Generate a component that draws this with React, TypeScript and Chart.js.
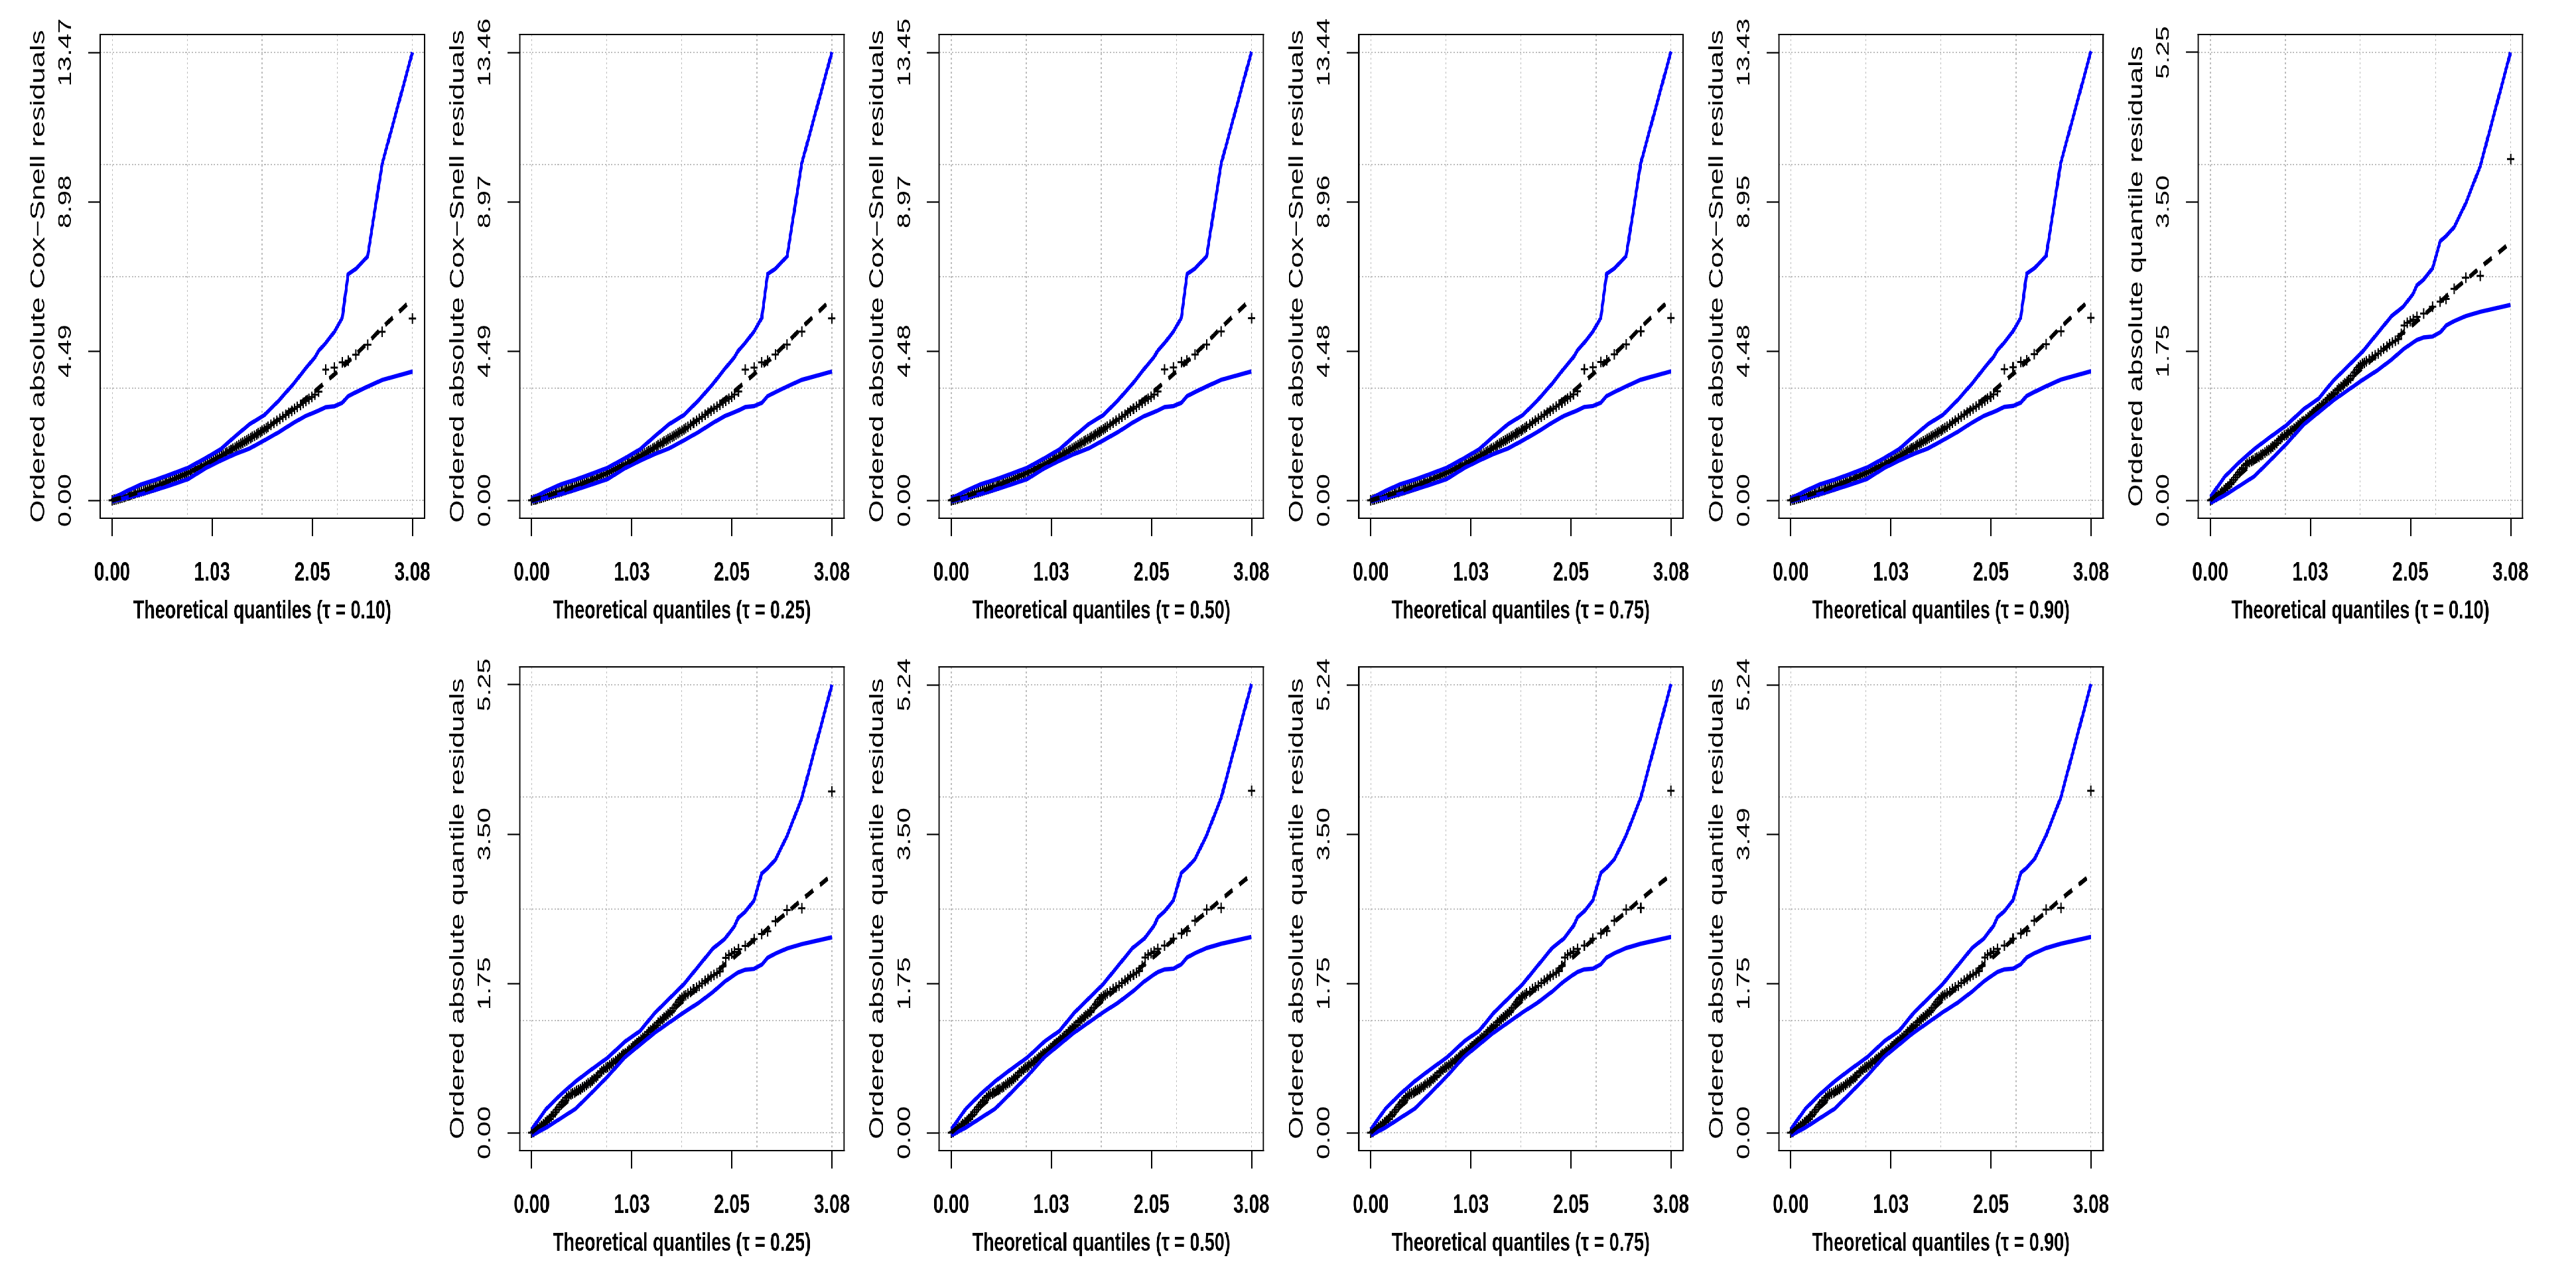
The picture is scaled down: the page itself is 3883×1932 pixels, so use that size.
import React, { useEffect, useRef } from 'react';
import { Chart, registerables } from 'chart.js';

Chart.register(...registerables);

const FONT = "'Liberation Sans', Arial, Helvetica, sans-serif";
const K = 0.68; // the reference is horizontally compressed
const PAGE_W = 3883;
const PAGE_H = 1932;

// ---------------- data ----------------
const taus = ['0.10', '0.25', '0.50', '0.75', '0.90', '0.10', '0.25', '0.50', '0.75', '0.90'];
const yTitleCS = 'Ordered absolute Cox\u2212Snell residuals';
const yTitleQR = 'Ordered absolute quantile residuals';
const yMaxes = [13.47, 13.46, 13.45, 13.44, 13.43, 5.25, 5.25, 5.24, 5.24, 5.24];
const yTickLabels = [
  ['0.00', '4.49', '8.98', '13.47'],
  ['0.00', '4.49', '8.97', '13.46'],
  ['0.00', '4.48', '8.97', '13.45'],
  ['0.00', '4.48', '8.96', '13.44'],
  ['0.00', '4.48', '8.95', '13.43'],
  ['0.00', '1.75', '3.50', '5.25'],
  ['0.00', '1.75', '3.50', '5.25'],
  ['0.00', '1.75', '3.50', '5.24'],
  ['0.00', '1.75', '3.50', '5.24'],
  ['0.00', '1.75', '3.49', '5.24'],
];
const xMax = 3.08;
const xTickLabels = ['0.00', '1.03', '2.05', '3.08'];

// theoretical quantiles of the plotted residuals
const theoQ = [
  0.00, 0.02, 0.04, 0.06, 0.08, 0.10, 0.12, 0.14, 0.16, 0.18,
  0.20, 0.22, 0.24, 0.26, 0.28, 0.30, 0.32, 0.34, 0.36, 0.38,
  0.40, 0.42, 0.44, 0.46, 0.48, 0.50, 0.52, 0.54, 0.56, 0.58,
  0.60, 0.62, 0.64, 0.66, 0.68, 0.70, 0.72, 0.74, 0.76, 0.78,
  0.80, 0.82, 0.84, 0.86, 0.88, 0.90, 0.92, 0.94, 0.96, 0.98,
  1.00, 1.02, 1.04, 1.06, 1.08, 1.10, 1.12, 1.14, 1.16, 1.18,
  1.20, 1.22, 1.24, 1.26, 1.28, 1.30, 1.32, 1.34, 1.36, 1.38,
  1.40, 1.42, 1.44, 1.46, 1.48, 1.50, 1.52, 1.54, 1.56, 1.58,
  1.60,
  1.63, 1.66, 1.69, 1.72, 1.75, 1.78, 1.81, 1.84, 1.87, 1.90,
  1.93, 1.96, 1.99, 2.02, 2.05, 2.08,
  2.12, 2.19, 2.28, 2.36, 2.42, 2.50, 2.62, 2.77, 3.08,
];
// ordered absolute Cox-Snell residuals
const csRes = [
  0.00, 0.02, 0.03, 0.05, 0.07, 0.08, 0.10, 0.12, 0.14, 0.16,
  0.18, 0.20, 0.22, 0.24, 0.25, 0.27, 0.29, 0.31, 0.33, 0.35,
  0.37, 0.39, 0.41, 0.43, 0.45, 0.48, 0.50, 0.53, 0.55, 0.58,
  0.60, 0.62, 0.65, 0.67, 0.70, 0.72, 0.75, 0.78, 0.80, 0.83,
  0.86, 0.88, 0.91, 0.94, 0.97, 1.00, 1.03, 1.06, 1.08, 1.11,
  1.14, 1.17, 1.20, 1.24, 1.27, 1.30, 1.34, 1.37, 1.41, 1.44,
  1.48, 1.51, 1.55, 1.58, 1.62, 1.66, 1.70, 1.73, 1.77, 1.80,
  1.84, 1.87, 1.91, 1.94, 1.98, 2.02, 2.05, 2.09, 2.13, 2.17,
  2.21,
  2.27, 2.33, 2.39, 2.45, 2.51, 2.57, 2.63, 2.69, 2.75, 2.81,
  2.87, 2.93, 2.99, 3.05, 3.11, 3.18,
  3.27, 3.93, 3.99, 4.15, 4.20, 4.38, 4.68, 5.07, 5.47,
];
// ordered absolute quantile residuals
const qrRes = [
  0.00, 0.01, 0.03, 0.04, 0.06, 0.08, 0.10, 0.12, 0.14, 0.16,
  0.19, 0.21, 0.24, 0.27, 0.30, 0.33, 0.36, 0.38, 0.41, 0.43,
  0.45, 0.46, 0.47, 0.49, 0.50, 0.51, 0.53, 0.54, 0.56, 0.58,
  0.59, 0.61, 0.63, 0.65, 0.67, 0.70, 0.72, 0.74, 0.76, 0.77,
  0.79, 0.81, 0.82, 0.84, 0.86, 0.88, 0.90, 0.92, 0.93, 0.95,
  0.97, 0.99, 1.01, 1.03, 1.05, 1.07, 1.09, 1.11, 1.13, 1.15,
  1.18, 1.20, 1.22, 1.24, 1.26, 1.29, 1.31, 1.33, 1.35, 1.37,
  1.39, 1.41, 1.43, 1.46, 1.50, 1.53, 1.56, 1.58, 1.60, 1.61,
  1.63,
  1.65, 1.68, 1.70, 1.72, 1.75, 1.78, 1.80, 1.83, 1.85, 1.87,
  1.89, 1.95, 2.05, 2.08, 2.10, 2.12,
  2.15, 2.19, 2.27, 2.33, 2.36, 2.48, 2.61, 2.63, 4.00,
];

// simulated envelope
const envQ = [
  0.00, 0.15, 0.30, 0.45, 0.60, 0.78, 0.96, 1.11, 1.26, 1.41, 1.56, 1.71,
  1.86, 1.98, 2.08, 2.12, 2.19, 2.28, 2.36, 2.42, 2.50, 2.62, 2.77, 3.08,
];
const csLower = [
  -0.03, 0.08, 0.19, 0.32, 0.46, 0.64, 0.97, 1.19, 1.39, 1.56, 1.80, 2.05,
  2.33, 2.53, 2.65, 2.70, 2.80, 2.83, 2.93, 3.13, 3.25, 3.42, 3.62, 3.87,
];
const csMedian = [
  0.00, 0.13, 0.27, 0.43, 0.60, 0.83, 1.09, 1.32, 1.57, 1.84, 2.13, 2.44,
  2.77, 3.04, 3.28, 3.38, 3.56, 3.79, 4.00, 4.17, 4.39, 4.73, 5.19, 6.05,
];
const csUpper = [
  0.05, 0.28, 0.48, 0.62, 0.78, 0.98, 1.27, 1.53, 1.92, 2.29, 2.56, 3.00,
  3.50, 3.95, 4.30, 4.50, 4.73, 5.07, 5.48, 6.80, 6.96, 7.33, 10.12, 13.47,
];
const qrLower = [
  -0.03, 0.06, 0.17, 0.28, 0.45, 0.66, 0.89, 1.03, 1.17, 1.29, 1.41, 1.52,
  1.65, 1.77, 1.85, 1.88, 1.91, 1.92, 1.97, 2.05, 2.10, 2.16, 2.21, 2.29,
];
const qrMedian = [
  0.00, 0.15, 0.30, 0.45, 0.60, 0.77, 0.95, 1.10, 1.25, 1.40, 1.55, 1.70,
  1.85, 1.97, 2.06, 2.10, 2.17, 2.26, 2.33, 2.39, 2.47, 2.58, 2.73, 3.02,
];
const qrUpper = [
  0.04, 0.28, 0.45, 0.60, 0.73, 0.88, 1.07, 1.19, 1.40, 1.57, 1.74, 1.95,
  2.16, 2.27, 2.42, 2.52, 2.59, 2.72, 3.04, 3.10, 3.20, 3.48, 3.92, 5.25,
];

// ---------------- layout (reference pixels) ----------------
const panelLefts = [151, 783.5, 1416, 2048.5, 2681, 3313.5, 783.5, 1416, 2048.5, 2681];
const panelTops = [52, 52, 52, 52, 52, 52, 1005, 1005, 1005, 1005];
const BOX_W = 489;
const LEFT_M = 151;
const RIGHT_M = 45;
const TOP_M = 52;
const CANVAS_H = 966;
const X_AXIS_H = CANVAS_H - TOP_M - 729;
const TICK_FONT = 41;
const XTITLE_FONT = 39.5;
const YTITLE_FONT = 44;
const TICK_LEN = 27;

function textWidth(text: string, size: number): number {
  const c = document.createElement('canvas').getContext('2d');
  if (!c) return text.length * size * 0.5;
  c.font = `${size}px ${FONT}`;
  return c.measureText(text).width;
}

const boxPlugin = {
  id: 'rbox',
  afterDraw(chart: any) {
    const { ctx, chartArea: a } = chart;
    ctx.save();
    ctx.strokeStyle = '#000';
    ctx.lineWidth = 2.2;
    ctx.beginPath();
    ctx.moveTo(a.left - 1.6, a.top);
    ctx.lineTo(a.right + 1.6, a.top);
    ctx.moveTo(a.left - 1.6, a.bottom);
    ctx.lineTo(a.right + 1.6, a.bottom);
    ctx.stroke();
    ctx.lineWidth = 2.8;
    ctx.beginPath();
    ctx.moveTo(a.left, a.top - 1.1);
    ctx.lineTo(a.left, a.bottom + 1.1);
    ctx.moveTo(a.right, a.top - 1.1);
    ctx.lineTo(a.right, a.bottom + 1.1);
    ctx.stroke();
    ctx.restore();
  },
};

function Panel({ idx }: { idx: number }) {
  const ref = useRef<HTMLCanvasElement | null>(null);

  useEffect(() => {
    if (!ref.current) return;
    const isCS = idx < 5;
    const res = isCS ? csRes : qrRes;
    const lower = isCS ? csLower : qrLower;
    const median = isCS ? csMedian : qrMedian;
    const upper = isCS ? csUpper : qrUpper;
    const yMax = yMaxes[idx];
    const yLabels = yTickLabels[idx];
    const widest = Math.max(...yLabels.map((l) => textWidth(l, TICK_FONT)));
    const yCenter = 62.8 + 0.33 * TICK_FONT; // label centre distance from the box, virtual px
    const yPad = yCenter - TICK_LEN - widest / 2;

    const points = theoQ.map((x, i) => ({ x, y: res[i] }));
    const mk = (arr: number[]) => envQ.map((x, i) => ({ x, y: arr[i] }));

    const chart = new Chart(ref.current, {
      type: 'scatter',
      data: {
        datasets: [
          {
            type: 'line',
            data: mk(median),
            borderColor: '#000000',
            borderWidth: 7,
            borderDash: [20, 17],
            pointRadius: 0,
            tension: 0,
            fill: false,
            order: 0,
            xAxisID: 'x',
            yAxisID: 'y',
          },
          {
            type: 'line',
            data: mk(lower),
            borderColor: '#0000FF',
            borderWidth: 6.5,
            pointRadius: 0,
            tension: 0,
            fill: false,
            order: 1,
            xAxisID: 'x',
            yAxisID: 'y',
          },
          {
            type: 'line',
            data: mk(upper),
            borderColor: '#0000FF',
            borderWidth: 6.5,
            pointRadius: 0,
            tension: 0,
            fill: false,
            order: 1,
            xAxisID: 'x',
            yAxisID: 'y',
          },
          {
            type: 'scatter',
            data: points,
            pointStyle: 'cross',
            pointRadius: 8,
            pointBorderWidth: 3,
            pointBorderColor: '#000000',
            pointBackgroundColor: '#000000',
            order: 2,
            xAxisID: 'x',
            yAxisID: 'y',
          },
        ],
      } as any,
      options: {
        animation: false,
        responsive: false,
        devicePixelRatio: 1,
        events: [],
        plugins: { legend: { display: false }, tooltip: { enabled: false } },
        layout: { padding: { left: 0, top: TOP_M, right: RIGHT_M / K, bottom: 0 } },
        scales: {
          x: {
            type: 'linear',
            position: 'bottom',
            min: -0.04 * xMax,
            max: 1.04 * xMax,
            afterBuildTicks: (s: any) => {
              s.ticks = xTickLabels.map((_, i) => ({ value: (xMax * i) / 3 }));
            },
            ticks: {
              autoSkip: false,
              maxRotation: 0,
              minRotation: 0,
              padding: 31,
              color: '#000',
              font: { family: FONT, size: TICK_FONT, weight: 'bold' },
              callback: (_v: any, i: number) => xTickLabels[i],
            },
            grid: {
              drawOnChartArea: false,
              drawTicks: true,
              tickLength: TICK_LEN,
              tickColor: '#000',
              tickWidth: 3,
            },
            border: { display: false },
            title: {
              display: true,
              text: `Theoretical quantiles (\u03C4 = ${taus[idx]})`,
              color: '#000',
              font: { family: FONT, size: XTITLE_FONT, weight: 'bold' },
              padding: { top: 0, bottom: 21.5 },
            },
            afterFit: (s: any) => {
              s.height = X_AXIS_H;
              s.paddingLeft = 0;
              s.paddingRight = 0;
            },
          },
          xg: {
            type: 'linear',
            position: 'bottom',
            min: -0.04 * xMax,
            max: 1.04 * xMax,
            afterBuildTicks: (s: any) => {
              s.ticks = [0, 1, 2, 3, 4].map((i) => ({ value: (xMax * i) / 4 }));
            },
            ticks: { display: false },
            grid: { drawOnChartArea: true, drawTicks: false, color: '#BEBEBE', lineWidth: 2 },
            border: { display: false, dash: [3, 4] },
            afterFit: (s: any) => {
              s.height = 0;
              s.paddingLeft = 0;
              s.paddingRight = 0;
            },
          },
          y: {
            type: 'linear',
            position: 'left',
            min: -0.04 * yMax,
            max: 1.04 * yMax,
            afterBuildTicks: (s: any) => {
              s.ticks = yLabels.map((_, i) => ({ value: (yMax * i) / 3 }));
            },
            ticks: {
              autoSkip: false,
              minRotation: 90,
              maxRotation: 90,
              crossAlign: 'center',
              padding: yPad,
              color: '#000',
              font: { family: FONT, size: TICK_FONT },
              callback: (_v: any, i: number) => yLabels[i],
            },
            grid: {
              drawOnChartArea: false,
              drawTicks: true,
              tickLength: TICK_LEN,
              tickColor: '#000',
              tickWidth: 2.2,
            },
            border: { display: false },
            title: {
              display: true,
              text: isCS ? yTitleCS : yTitleQR,
              color: '#000',
              font: { family: FONT, size: YTITLE_FONT },
              padding: { top: 59.5, bottom: 0 },
            },
            afterFit: (s: any) => {
              s.width = LEFT_M / K;
              s.paddingTop = 0;
              s.paddingBottom = 0;
            },
          },
          yg: {
            type: 'linear',
            position: 'left',
            min: -0.04 * yMax,
            max: 1.04 * yMax,
            afterBuildTicks: (s: any) => {
              s.ticks = [0, 1, 2, 3, 4].map((i) => ({ value: (yMax * i) / 4 }));
            },
            ticks: { display: false },
            grid: { drawOnChartArea: true, drawTicks: false, color: '#BEBEBE', lineWidth: 2 },
            border: { display: false, dash: [3, 4] },
            afterFit: (s: any) => {
              s.width = 0;
              s.paddingTop = 0;
              s.paddingBottom = 0;
            },
          },
        },
      } as any,
      plugins: [boxPlugin],
    });
    return () => chart.destroy();
  }, [idx]);

  const left = (panelLefts[idx] - LEFT_M) / K;
  const top = panelTops[idx] - TOP_M;
  const width = Math.round((LEFT_M + BOX_W + RIGHT_M) / K);
  return (
    <canvas
      ref={ref}
      width={width}
      height={CANVAS_H}
      style={{ position: 'absolute', left, top, width, height: CANVAS_H }}
    />
  );
}

export default function App() {
  return (
    <div
      style={{
        position: 'fixed',
        left: 0,
        top: 0,
        width: PAGE_W,
        height: PAGE_H,
        overflow: 'hidden',
        background: '#ffffff',
      }}
    >
      <div
        style={{
          position: 'absolute',
          left: 0,
          top: 0,
          width: PAGE_W / K,
          height: PAGE_H,
          transform: `scaleX(${K})`,
          transformOrigin: '0 0',
        }}
      >
        {panelLefts.map((_, i) => (
          <Panel key={i} idx={i} />
        ))}
      </div>
    </div>
  );
}
